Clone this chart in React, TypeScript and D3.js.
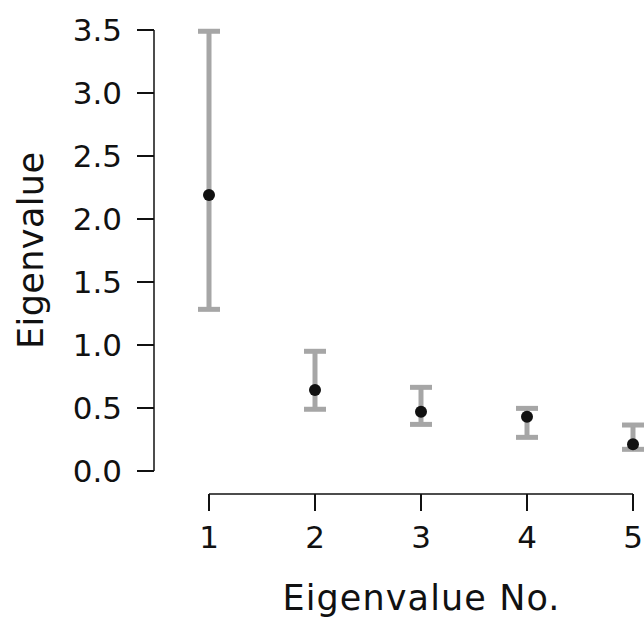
import React from "react";
import * as d3 from "d3";

const categories = [1, 2, 3, 4, 5];
const means = [2.19, 0.643, 0.47, 0.431, 0.212];
const lowers = [1.283, 0.49, 0.37, 0.267, 0.172];
const uppers = [3.49, 0.95, 0.664, 0.497, 0.365];
const yTicks = [0, 0.5, 1.0, 1.5, 2.0, 2.5, 3.0, 3.5];

const W = 644;
const H = 618;
const FONT = "DejaVu Sans, sans-serif";

export default function App() {
  const x = d3.scaleLinear().domain([1, 5]).range([209, 633]);
  const y = d3.scaleLinear().domain([0, 3.5]).range([471, 30]);
  const axisX = 154;
  const axisY = 494;
  const capW = 22;
  const grey = "#a6a6a6";
  const ink = "#111111";

  return (
    <svg
      width={W}
      height={H}
      style={{ position: "absolute", left: 0, top: 0, background: "#fff" }}
    >
      {/* y axis */}
      <line x1={axisX} x2={axisX} y1={y(3.5)} y2={y(0)} stroke={ink} strokeWidth={1.5} />
      {yTicks.map((t) => (
        <g key={t}>
          <line x1={axisX - 17} x2={axisX} y1={y(t)} y2={y(t)} stroke={ink} strokeWidth={2} />
          <text
            x={122}
            y={y(t)}
            dy="0.36em"
            textAnchor="end"
            fontFamily={FONT}
            fontSize={31}
            fill={ink}
          >
            {d3.format(".1f")(t)}
          </text>
        </g>
      ))}
      {/* x axis */}
      <line x1={x(1)} x2={x(5)} y1={axisY} y2={axisY} stroke={ink} strokeWidth={1.5} />
      {categories.map((c) => (
        <g key={c}>
          <line x1={x(c)} x2={x(c)} y1={axisY} y2={axisY + 17} stroke={ink} strokeWidth={2} />
          <text
            x={x(c)}
            y={548}
            textAnchor="middle"
            fontFamily={FONT}
            fontSize={31}
            fill={ink}
          >
            {c}
          </text>
        </g>
      ))}
      {/* error bars */}
      {categories.map((c, i) => (
        <g key={"e" + c}>
          <line x1={x(c)} x2={x(c)} y1={y(uppers[i])} y2={y(lowers[i])} stroke={grey} strokeWidth={5} />
          <line x1={x(c) - capW / 2} x2={x(c) + capW / 2} y1={y(uppers[i])} y2={y(uppers[i])} stroke={grey} strokeWidth={5} />
          <line x1={x(c) - capW / 2} x2={x(c) + capW / 2} y1={y(lowers[i])} y2={y(lowers[i])} stroke={grey} strokeWidth={5} />
        </g>
      ))}
      {categories.map((c, i) => (
        <circle key={"p" + c} cx={x(c)} cy={y(means[i])} r={6} fill={ink} />
      ))}
      {/* axis titles */}
      <text
        x={421}
        y={610}
        textAnchor="middle"
        fontFamily={FONT}
        fontSize={35}
        textLength={277}
        lengthAdjust="spacing"
        fill={ink}
      >
        Eigenvalue No.
      </text>
      <text
        transform={`translate(43, ${(y(0) + y(3.5)) / 2}) rotate(-90)`}
        textAnchor="middle"
        fontFamily={FONT}
        fontSize={35}
        textLength={197}
        lengthAdjust="spacing"
        fill={ink}
      >
        Eigenvalue
      </text>
    </svg>
  );
}
